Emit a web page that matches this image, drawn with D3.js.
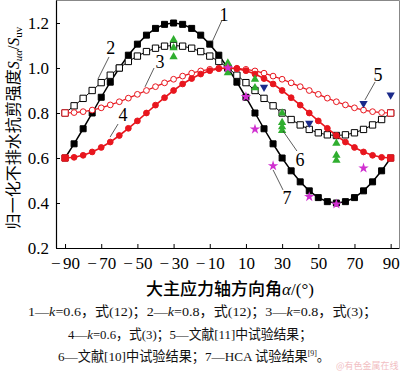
<!DOCTYPE html>
<html><head><meta charset="utf-8">
<script src="https://cdn.jsdelivr.net/npm/d3@7"></script>
<style>body{margin:0;background:#fff}svg{display:block}</style>
</head><body>
<svg id="c" width="400" height="371"></svg>
<script>
// ---- data ----
const alpha = [-90,-85,-80,-75,-70,-65,-60,-55,-50,-45,-40,-35,-30,-25,-20,-15,-10,-5,0,5,10,15,20,25,30,35,40,45,50,55,60,65,70,75,80,85,90];
const curve1 = [0.60,0.663,0.730,0.80,0.870,0.937,1.00,1.057,1.106,1.146,1.176,1.194,1.20,1.194,1.176,1.146,1.106,1.057,1.00,0.937,0.870,0.80,0.730,0.663,0.60,0.543,0.494,0.454,0.424,0.406,0.40,0.406,0.424,0.454,0.494,0.543,0.60];
const curve2 = [0.80,0.832,0.865,0.90,0.935,0.968,1.00,1.029,1.053,1.073,1.088,1.097,1.10,1.097,1.088,1.073,1.053,1.029,1.00,0.968,0.935,0.90,0.865,0.832,0.80,0.771,0.747,0.727,0.712,0.703,0.70,0.703,0.712,0.727,0.747,0.771,0.80];
const curve3 = [0.80,0.802,0.806,0.813,0.823,0.836,0.85,0.866,0.883,0.90,0.917,0.934,0.95,0.964,0.977,0.987,0.994,0.999,1.00,0.999,0.994,0.987,0.977,0.964,0.95,0.934,0.917,0.90,0.883,0.866,0.85,0.836,0.823,0.813,0.806,0.802,0.80];
const curve4 = [0.60,0.603,0.612,0.627,0.647,0.671,0.70,0.732,0.765,0.80,0.835,0.868,0.90,0.929,0.953,0.973,0.988,0.997,1.00,0.997,0.988,0.973,0.953,0.929,0.90,0.868,0.835,0.80,0.765,0.732,0.70,0.671,0.647,0.627,0.612,0.603,0.60];
const ref11Alpha = [20,45,75,90];
const ref11Val   = [0.915,0.755,0.843,0.88];
const ref10Alpha = [-30,-30,-30,0,0,15,15,30,30,30,30,60,60,60];
const ref10Val   = [1.125,1.09,1.05,1.022,0.978,0.95,0.912,0.80,0.757,0.738,0.722,0.665,0.612,0.59];
const hcaAlpha = [0,10,15,25,45,60,75];
const hcaVal   = [1.0,0.872,0.728,0.565,0.428,0.395,0.555];
const xTicks = [-90,-70,-50,-30,-10,10,30,50,70,90];
const yTicks = [0.2,0.4,0.6,0.8,1.0,1.2];
const labelText = ["1","2","3","4","5","6","7"];
const labelPos  = [[-2.1,1.236],[-64.7,1.089],[-37.5,1.027],[-57.9,0.791],[83.0,0.969],[39.9,0.591],[32.7,0.422]];
const leaders   = [[[-3.2,1.213],[-8.7,1.116]],[[-65.7,1.049],[-71.8,0.951]],[[-40.8,1.0],[-45.8,0.916]],[[-60.7,0.751],[-65.1,0.693]],[[81.4,0.938],[75.8,0.858]],[[38.2,0.631],[30.5,0.72]],[[30.5,0.458],[25.0,0.547]]];
const captions = [
  [["1—",0],["k",1],["=0.6，式(12)；2—",0],["k",1],["=0.8，式(12)；3—",0],["k",1],["=0.8，式(3)；",0]],
  [["4—",0],["k",1],["=0.6，式(3)；5—文献[11]中试验结果；",0]],
  [["6—文献[10]中试验结果；7—HCA 试验结果",0],["[9]",2],["。",0]]
];

// ---- chart ----
const svg = d3.select("#c");
const x = d3.scaleLinear().domain([-95,95]).range([56,399.7]);
const y = d3.scaleLinear().domain([0.2,1.3]).range([248,0.5]);
const FONT = "'Liberation Serif','Noto Sans CJK SC',serif";
const RED = "#e8161e", GREEN = "#2fae2f", NAVY = "#1b2a8a", MAG = "#d030d0";

// frame
svg.append("line").attr("x1",56).attr("x2",399.5).attr("y1",0.5).attr("y2",0.5).attr("stroke","#888").attr("stroke-width",1);
svg.append("line").attr("x1",399.5).attr("x2",399.5).attr("y1",0.5).attr("y2",248).attr("stroke","#888").attr("stroke-width",1);

// axes
const xAxis = d3.axisBottom(x).tickValues(xTicks).tickSizeInner(-4).tickSizeOuter(0).tickFormat(d => String(Math.abs(d)));
const gx = svg.append("g").attr("transform","translate(0,248)").call(xAxis);
gx.select(".domain").attr("d","M56,0.5H399.5").attr("stroke","#000").attr("stroke-width",1.2);
gx.selectAll(".tick line").attr("stroke","#000");
gx.selectAll(".tick text").attr("font-family",FONT).attr("font-size",17).attr("fill","#000").attr("y",9).attr("dy","0.71em")
  .each(function(d){
    if (d < 0) {
      const t = d3.select(this); const s = t.text(); t.text("");
      t.append("tspan").text("\u2212");
      t.append("tspan").attr("dx",2.5).text(s);
    }
  });

const yAxis = d3.axisLeft(y).tickValues(yTicks).tickSizeInner(-4).tickSizeOuter(0).tickFormat(d3.format(".1f"));
const gy = svg.append("g").attr("transform","translate(56,0)").call(yAxis);
gy.select(".domain").attr("d","M0.5,0.5V248").attr("stroke","#000").attr("stroke-width",1.2);
gy.selectAll(".tick line").attr("stroke","#000");
gy.selectAll(".tick text").attr("font-family",FONT).attr("font-size",17).attr("fill","#000").attr("x",-7);

// curves
const line = d3.line().x(d => x(d[0])).y(d => y(d[1]));
function zipA(vals){ return alpha.map((a,i) => [a, vals[i]]); }
const sq = d3.symbol().type(d3.symbolSquare).size(36);
const sqOpen = d3.symbol().type(d3.symbolSquare).size(40);
const circ = d3.symbol().type(d3.symbolCircle).size(26);

function drawCurve(vals, color, width, sym, fill, endSquares){
  const pts = zipA(vals);
  svg.append("path").attr("d", line(pts)).attr("fill","none").attr("stroke",color).attr("stroke-width",width);
  svg.append("g").selectAll("path").data(pts).join("path")
    .attr("transform", d => `translate(${x(d[0])},${y(d[1])})`)
    .attr("d", (d,i) => (endSquares && (i===0 || i===pts.length-1)) ? sqOpen() : sym())
    .attr("fill", fill).attr("stroke", color).attr("stroke-width", 1);
}
drawCurve(curve1, "#000", 1.5, sq, "#000", false);
drawCurve(curve2, "#000", 1.0, sqOpen, "#fff", false);
drawCurve(curve3, RED, 1.2, circ, "#fff", true);
drawCurve(curve4, RED, 1.6, circ, RED, true);

// experimental points
const tri = d3.symbol().type(d3.symbolTriangle).size(30);
svg.append("g").selectAll("path").data(ref11Alpha.map((a,i)=>[a,ref11Val[i]])).join("path")
  .attr("transform", d => `translate(${x(d[0])},${y(d[1])}) rotate(180)`)
  .attr("d", tri()).attr("fill", NAVY);
svg.append("g").selectAll("path").data(ref10Alpha.map((a,i)=>[a,ref10Val[i]])).join("path")
  .attr("transform", d => `translate(${x(d[0])},${y(d[1])})`)
  .attr("d", tri()).attr("fill", GREEN);
const star = d3.symbol().type(d3.symbolStar).size(34);
svg.append("g").selectAll("path").data(hcaAlpha.map((a,i)=>[a,hcaVal[i]])).join("path")
  .attr("transform", d => `translate(${x(d[0])},${y(d[1])})`)
  .attr("d", star()).attr("fill", MAG);

// annotation labels
svg.append("g").selectAll("line").data(leaders).join("line")
  .attr("x1", d => x(d[0][0])).attr("y1", d => y(d[0][1]))
  .attr("x2", d => x(d[1][0])).attr("y2", d => y(d[1][1]))
  .attr("stroke","#333").attr("stroke-width",0.8);
svg.append("g").selectAll("text").data(labelText).join("text")
  .attr("x", (d,i) => x(labelPos[i][0])).attr("y", (d,i) => y(labelPos[i][1]))
  .attr("text-anchor","middle").attr("dominant-baseline","central")
  .attr("font-family",FONT).attr("font-size",18).text(d => d);

// axis titles
const xt = svg.append("text").attr("x",230).attr("y",295).attr("text-anchor","middle")
  .attr("font-family","'Noto Sans CJK SC',sans-serif").attr("font-size",17).attr("font-weight",500);
xt.append("tspan").text("大主应力轴方向角");
xt.append("tspan").attr("font-family",FONT).attr("font-style","italic").text("α");
xt.append("tspan").attr("font-family",FONT).text("/(°)");

const yt = svg.append("text").attr("transform","translate(19,128) rotate(-90)").attr("text-anchor","middle")
  .attr("font-family","'Noto Sans CJK SC',sans-serif").attr("font-size",16);
yt.append("tspan").text("归一化不排水抗剪强度");
yt.append("tspan").attr("font-family",FONT).attr("font-style","italic").text("S");
yt.append("tspan").attr("font-family",FONT).attr("font-style","italic").attr("font-size",11).attr("dy",3).text("uα");
yt.append("tspan").attr("font-family",FONT).attr("dy",-3).text("/");
yt.append("tspan").attr("font-family",FONT).attr("font-style","italic").text("S");
yt.append("tspan").attr("font-family",FONT).attr("font-size",11).attr("dy",3).text("uv");

// captions
const capY = [316, 339, 361];
const capX = [28, 68, 58];
const capW = [349, 244, 272];
captions.forEach((parts, li) => {
  const t = svg.append("text").attr("x",capX[li]).attr("y",capY[li]).attr("text-anchor","start")
    .attr("font-family",FONT).attr("font-size",13.5).attr("fill","#111")
    .attr("textLength",capW[li]).attr("lengthAdjust","spacingAndGlyphs");
  parts.forEach((p,i) => {
    const s = t.append("tspan").text(p[0]);
    if (p[1]===1) s.attr("font-style","italic");
    if (p[1]===2) s.attr("font-size",8).attr("dy",-5);
    if (i>0 && parts[i-1][1]===2) s.attr("dy",5);
  });
});

// watermark
svg.append("text").attr("x",336).attr("y",369).attr("font-family","'Noto Sans CJK SC',sans-serif")
  .attr("font-size",9).attr("fill","#f0b4b8").attr("opacity",0.85).text("@有色金属在线");
</script>
</body></html>
